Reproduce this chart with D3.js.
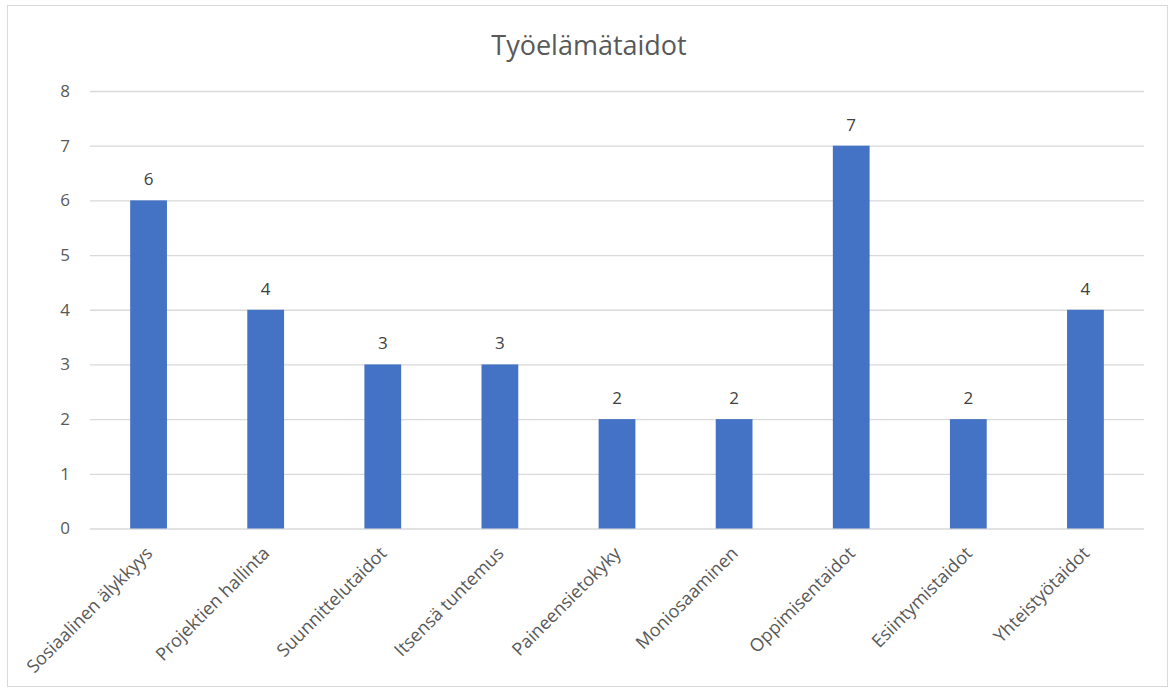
<!DOCTYPE html>
<html>
<head>
<meta charset="utf-8">
<script src="https://cdn.jsdelivr.net/npm/d3@7"></script>
<style>
  html, body { margin: 0; padding: 0; background: #fff; }
  svg { display: block; font-family: "Open Sans", "Noto Sans", sans-serif; }
</style>
</head>
<body>
<svg id="chart" width="1169" height="691"></svg>
<script>
// Skill categories and their counts
const categories = [
  "Sosiaalinen älykkyys",
  "Projektien hallinta",
  "Suunnittelutaidot",
  "Itsensä tuntemus",
  "Paineensietokyky",
  "Moniosaaminen",
  "Oppimisentaidot",
  "Esiintymistaidot",
  "Yhteistyötaidot"
];
const values = [6, 4, 3, 3, 2, 2, 7, 2, 4];
const yTicks = [0, 1, 2, 3, 4, 5, 6, 7, 8];
const title = "Työelämätaidot";

const svg = d3.select("#chart");
const W = 1169, H = 691;
const plot = { left: 90, right: 1144, top: 91, bottom: 528.5 };
const textColor = "#595959";
const gridColor = "#d9d9d9";
const barColor = "#4472c4";

// outer frame
svg.append("rect")
  .attr("x", 7.5).attr("y", 5.5)
  .attr("width", W - 9).attr("height", H - 10)
  .attr("fill", "#fff")
  .attr("stroke", "#d9d9d9").attr("stroke-width", 1);

const x = d3.scaleBand()
  .domain(categories)
  .range([plot.left, plot.right])
  .paddingInner(0.686)
  .paddingOuter(0.343);

const y = d3.scaleLinear()
  .domain([0, 8])
  .range([plot.bottom, plot.top]);

// title
svg.append("text")
  .attr("x", 589).attr("y", 55)
  .attr("text-anchor", "middle")
  .attr("font-size", 27)
  .attr("fill", textColor)
  .text(title);

// horizontal gridlines + y labels
const yAxis = d3.axisLeft(y)
  .tickValues(yTicks)
  .tickSize(-(plot.right - plot.left))
  .tickPadding(20)
  .tickFormat(d3.format("d"));

const gy = svg.append("g")
  .attr("transform", `translate(${plot.left},0)`)
  .call(yAxis);
gy.select(".domain").remove();
gy.selectAll(".tick line").attr("stroke", gridColor).attr("stroke-width", 1.3);
gy.selectAll(".tick text")
  .attr("fill", textColor)
  .attr("font-size", 17)
  .attr("font-family", "\"Open Sans\", sans-serif");

// bars
svg.append("g").selectAll("rect")
  .data(values)
  .join("rect")
  .attr("x", (d, i) => x(categories[i]))
  .attr("y", d => y(d))
  .attr("width", x.bandwidth())
  .attr("height", d => y(0) - y(d))
  .attr("fill", barColor);

// value labels
svg.append("g").selectAll("text")
  .data(values)
  .join("text")
  .attr("x", (d, i) => x(categories[i]) + x.bandwidth() / 2)
  .attr("y", d => y(d) - 15)
  .attr("text-anchor", "middle")
  .attr("font-size", 17)
  .attr("fill", "#404040")
  .text(d => d);

// category labels, rotated
const xAxis = d3.axisBottom(x).tickSize(0).tickPadding(0);
const gx = svg.append("g")
  .attr("transform", `translate(0,${plot.bottom})`)
  .call(xAxis);
gx.select(".domain").remove();
gx.selectAll(".tick text")
  .attr("fill", textColor)
  .attr("font-size", 18)
  .attr("font-family", "\"Open Sans\", sans-serif")
  .attr("text-anchor", "end")
  .attr("dy", 0)
  .attr("transform", "translate(5,26) rotate(-45)");
</script>
</body>
</html>
